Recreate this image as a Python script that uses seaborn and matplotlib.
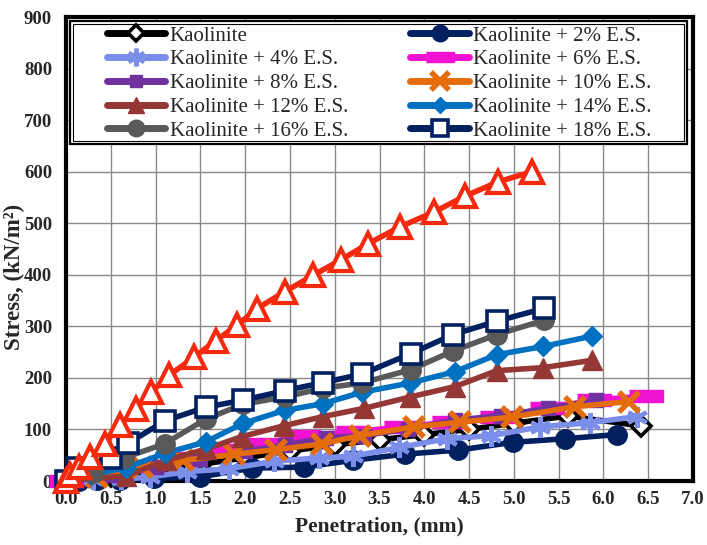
import numpy as np
import pandas as pd
import seaborn as sns
import matplotlib
matplotlib.use("Agg")
import matplotlib.pyplot as plt
from matplotlib.lines import Line2D
from matplotlib.patches import Rectangle
from matplotlib.ticker import MultipleLocator

# ---- penetration (mm) / stress (kN/m2) readings for each mix ----
kaol_x = [0, 0.15, 0.3, 0.5, 0.7, 1.0, 1.5, 2.0, 2.5, 3.0, 3.5, 4.0, 4.5, 5.0, 5.6, 6.42]
kaol_y = [0, 3, 6, 10, 14, 20, 32, 45, 58, 70, 80, 90, 100, 112, 126, 107]

es2_x = [0, 0.15, 0.35, 0.6, 0.98, 1.5, 2.08, 2.66, 3.2, 3.78, 4.38, 4.99, 5.57, 6.15]
es2_y = [0, 0, 1, 2, 5, 8, 25, 27, 40, 52, 60, 75, 82, 90]

es4_x = [0, 0.3, 0.61, 0.94, 1.35, 1.82, 2.32, 2.83, 3.2, 3.72, 4.25, 4.75, 5.29, 5.85, 6.37]
es4_y = [0, 3, 3, 8, 18, 24, 38, 45, 48, 65, 82, 88, 105, 113, 125]

es6_x = [0, 0.45, 0.9, 1.35, 1.8, 2.2, 2.65, 3.2, 3.74, 4.28, 4.81, 5.37, 5.89, 6.48]
es6_y = [0, 15, 30, 45, 60, 72, 88, 95, 105, 114, 124, 141, 157, 165]

es8_x = [0, 0.5, 1.0, 1.5, 2.0, 2.45, 2.9, 3.33, 3.82, 4.34, 4.86, 5.38, 5.92]
es8_y = [0, 12, 28, 42, 58, 70, 84, 88, 101, 118, 127, 141, 157]

es10_x = [0, 0.35, 0.85, 1.31, 1.88, 2.35, 2.86, 3.28, 3.88, 4.4, 4.98, 5.68, 6.28]
es10_y = [0, 8, 28, 40, 52, 61, 72, 88, 105, 114, 124, 144, 154]

es12_x = [0, 0.67, 1.12, 1.56, 1.96, 2.43, 2.87, 3.33, 3.84, 4.34, 4.81, 5.33, 5.87]
es12_y = [0, 10, 40, 62, 86, 107, 125, 141, 163, 183, 214, 220, 234]

es14_x = [0, 0.28, 0.67, 1.11, 1.56, 1.98, 2.44, 2.87, 3.3, 3.84, 4.34, 4.81, 5.33, 5.87]
es14_y = [0, 12, 26, 54, 76, 112, 137, 150, 172, 190, 212, 245, 261, 281]

es16_x = [0, 0.3, 0.65, 1.1, 1.56, 1.98, 2.44, 2.87, 3.3, 3.85, 4.32, 4.81, 5.34]
es16_y = [0, 15, 45, 72, 120, 149, 163, 180, 190, 216, 252, 284, 312]

es18_x = [0, 0.12, 0.5, 0.69, 1.11, 1.56, 1.98, 2.44, 2.87, 3.3, 3.85, 4.32, 4.81, 5.34]
es18_y = [0, 25, 45, 73, 117, 143, 157, 175, 191, 207, 247, 284, 310, 335]

red_x = [0, 0.05, 0.15, 0.27, 0.43, 0.6, 0.78, 0.95, 1.15, 1.43, 1.67, 1.91, 2.13,
         2.44, 2.76, 3.07, 3.37, 3.73, 4.11, 4.46, 4.82, 5.2]
red_y = [0, 12, 27, 47, 72, 108, 140, 172, 205, 240, 272, 302, 334,
         367, 399, 429, 460, 493, 522, 553, 580, 600]

labels = ["Kaolinite", "Kaolinite + 2% E.S.", "Kaolinite + 4% E.S.", "Kaolinite + 6% E.S.",
          "Kaolinite + 8% E.S.", "Kaolinite + 10% E.S.", "Kaolinite + 12% E.S.",
          "Kaolinite + 14% E.S.", "Kaolinite + 16% E.S.", "Kaolinite + 18% E.S.", ""]
xs = [kaol_x, es2_x, es4_x, es6_x, es8_x, es10_x, es12_x, es14_x, es16_x, es18_x, red_x]
ys = [kaol_y, es2_y, es4_y, es6_y, es8_y, es10_y, es12_y, es14_y, es16_y, es18_y, red_y]

frames = []
for i, (lab, x, y) in enumerate(zip(labels, xs, ys)):
    frames.append(pd.DataFrame({"series": i, "label": lab, "penetration": x, "stress": y}))
df = pd.concat(frames, ignore_index=True)

bar = [(-1, -0.33), (1, -0.33), (1, 0.33), (-1, 0.33)]
star = (6, 2, 0)

styles = [
    dict(color="#000000", marker="D", ms=10, mfc="white", mec="#000000", mew=2.6),
    dict(color="#002060", marker="o", ms=14, mfc="#002060", mec="#002060", mew=1),
    dict(color="#7B8EEA", marker=star, ms=15, mfc="#7B8EEA", mec="#7B8EEA", mew=3),
    dict(color="#F012D2", marker=bar, ms=24, mfc="#F012D2", mec="#F012D2", mew=1),
    dict(color="#7030A0", marker="s", ms=10, mfc="#7030A0", mec="#7030A0", mew=1),
    dict(color="#E46C0A", marker="x", ms=15, mfc="#E46C0A", mec="#E46C0A", mew=4),
    dict(color="#953735", marker="^", ms=14, mfc="#953735", mec="#953735", mew=1),
    dict(color="#0070C0", marker="D", ms=10, mfc="#0070C0", mec="#0070C0", mew=1),
    dict(color="#595959", marker="o", ms=14, mfc="#595959", mec="#595959", mew=1),
    dict(color="#002060", marker="s", ms=14, mfc="white", mec="#002060", mew=2.6),
    dict(color="#F5290D", marker="^", ms=16, mfc="white", mec="#F5290D", mew=3),
]

sns.set_style("white")
plt.rcParams["font.family"] = ["Liberation Serif", "DejaVu Serif"]

W, H = 707, 545
fig = plt.figure(figsize=(W / 100, H / 100), dpi=100)
ax = fig.add_axes([66 / W, 1 - 481 / H, 627 / W, 464 / H])

for i, st in enumerate(styles):
    sub = df[df["series"] == i]
    sns.lineplot(data=sub, x="penetration", y="stress", ax=ax, sort=False, estimator=None,
                 lw=4, clip_on=False, zorder=3 + i * 0.1, legend=False, **st)

ax.set_xlim(0, 7)
ax.set_ylim(0, 900)
ax.xaxis.set_major_locator(MultipleLocator(0.5))
ax.xaxis.set_minor_locator(MultipleLocator(0.1))
ax.yaxis.set_major_locator(MultipleLocator(100))
ax.yaxis.set_minor_locator(MultipleLocator(20))
ax.set_xticklabels([f"{v:.1f}" for v in ax.get_xticks()])
ax.grid(True, which="major", color="#8a8a8a", lw=1.0, zorder=0)
ax.set_axisbelow(True)
ax.tick_params(which="major", length=0, labelsize=13.5, pad=7)
ax.tick_params(axis="y", which="major", pad=10)
ax.tick_params(which="minor", direction="in", length=4, width=1, color="black")
for lab in ax.get_xticklabels() + ax.get_yticklabels():
    lab.set_fontweight("bold")
for sp in ax.spines.values():
    sp.set_visible(True)
    sp.set_color("black")
    sp.set_linewidth(3)

ax.set_xlabel("Penetration, (mm)", fontsize=15.5, fontweight="bold")
ax.set_ylabel("Stress, (kN/m²)", fontsize=16.5, fontweight="bold")
ax.xaxis.set_label_coords(0.5, -0.077)
ax.yaxis.set_label_coords(-0.066, 0.44)

# legend box with a double border
box = Rectangle((70 / W, 1 - 144 / H), 617 / W, 123 / H, transform=fig.transFigure,
                facecolor="white", edgecolor="black", lw=1.6, zorder=5)
inner = Rectangle((73 / W, 1 - 141 / H), 611 / W, 117 / H, transform=fig.transFigure,
                  facecolor="none", edgecolor="black", lw=0.8, zorder=5)
fig.add_artist(box)
fig.add_artist(inner)

handles = []
for i in range(10):
    st = dict(styles[i])
    ms = st.pop("ms")
    handles.append(Line2D([], [], lw=5, ms=ms * 0.85, **st))
order = [0, 2, 4, 6, 8, 1, 3, 5, 7, 9]
leg = fig.legend([handles[k] for k in order], [labels[k] for k in order], ncol=2,
                 loc="upper left", bbox_to_anchor=(107 / W, 1 - 26 / H), frameon=False,
                 fontsize=15, handlelength=2.8, handletextpad=0.2, labelspacing=0.2,
                 columnspacing=3.0, borderpad=0, borderaxespad=0)
leg.set_zorder(6)

fig.savefig("out.png", dpi=100)
